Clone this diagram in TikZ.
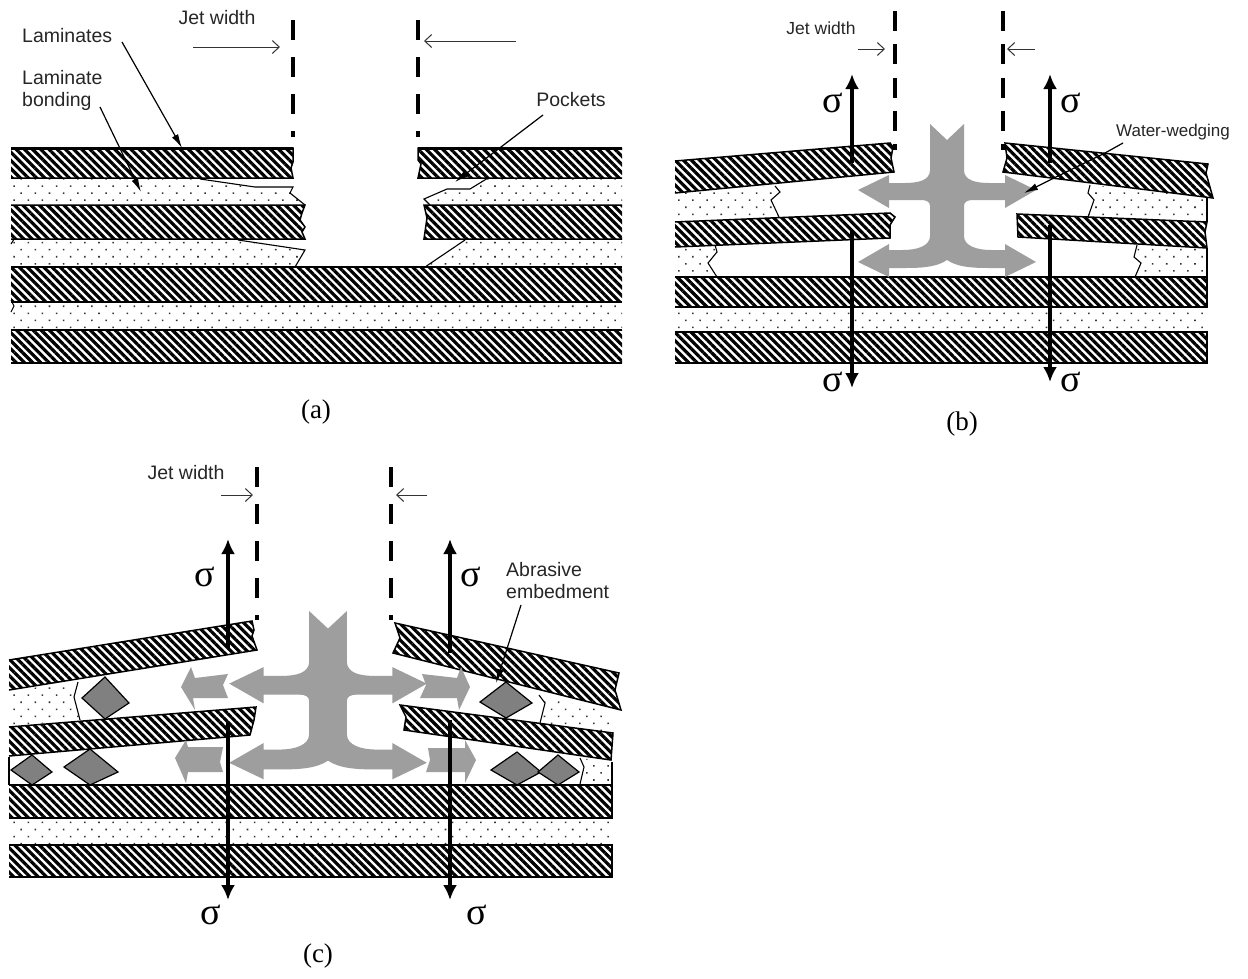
\documentclass[tikz,border=0pt]{standalone}
\usepackage{fontspec}
\setmainfont{Liberation Serif}
\setsansfont{Liberation Sans}
\usetikzlibrary{arrows.meta,patterns.meta}
\tikzset{
  laminate/.style={draw=black,line width=1.5pt,preaction={fill=white},
    pattern={Lines[angle=-45,distance=5.8pt,line width=3.2pt]}},
  bonding/.style={preaction={fill=white},pattern color=black!80,
    pattern={Dots[angle=45,distance=10pt,radius=1.1pt]}},
  crack/.style={draw=black,line width=1.1pt},
  jetline/.style={line width=4pt,dash pattern=on 20pt off 17pt},
  jetarrow/.style={line width=1pt,black!80,-{Straight Barb[length=7pt,width=13pt]}},
  sigmaarrow/.style={line width=3.6pt,-{Latex[length=15pt,width=14pt]}},
  leader/.style={line width=1.2pt,-{Latex[length=14pt,width=7pt]}},
  flow/.style={fill=black!38},
  grain/.style={draw=black,line width=1.2pt,fill=black!50},
  tag/.style={font=\sffamily\fontsize{19.5}{22}\selectfont,inner sep=0pt,text=black!85,align=left},
  sigmatag/.style={font=\fontsize{38}{38}\selectfont,inner sep=0pt},
  sublabel/.style={font=\fontsize{27}{27}\selectfont,inner sep=0pt},
}
% grey jet: origin at the middle of the tail
\newcommand{\jetflow}{
  \fill[flow] (-17,0) -- (0,16) -- (17,0) -- (17,46)
    .. controls (17,56) and (28,59) .. (42,59) -- (58,59) -- (58,51) -- (89,66) -- (58,84) -- (58,76) -- (26,76)
    .. controls (20,76) and (17,78) .. (17,82) -- (17,112)
    .. controls (17,122) and (30,126) .. (44,126) -- (58,126) -- (58,120) -- (89,138) -- (58,153) -- (58,144) -- (42,144)
    .. controls (25,144) and (10,143) .. (0,136)
    .. controls (-10,143) and (-25,144) .. (-42,144) -- (-58,144) -- (-58,153) -- (-89,138) -- (-58,120) -- (-58,126) -- (-44,126)
    .. controls (-30,126) and (-17,122) .. (-17,112) -- (-17,82)
    .. controls (-17,78) and (-20,76) .. (-26,76) -- (-58,76) -- (-58,84) -- (-89,66) -- (-58,51) -- (-58,59) -- (-42,59)
    .. controls (-28,59) and (-17,56) .. (-17,46) -- cycle;
}
\begin{document}
\begin{tikzpicture}[x=1pt,y=-1pt]
  \fill[white] (0,0) rectangle (1248,978);
  \useasboundingbox (0,0) rectangle (1248,978);

  % (a) bonding
  \fill[bonding] (11,178) -- (200,179) -- (255,187) -- (293,187) -- (290,193) -- (305,205) -- (11,205) -- cycle;
  \fill[bonding] (11,240) -- (238,240) -- (305,250) -- (295,267) -- (11,267) -- cycle;
  \fill[bonding] (622,178) -- (488,178) -- (470,189) -- (447,189) -- (424,199) -- (430,205) -- (622,205) -- cycle;
  \fill[bonding] (622,240) -- (465,240) -- (425,267) -- (622,267) -- cycle;
  \fill[bonding] (11,302) rectangle (622,330);
  % (a) pocket edges
  \draw[crack] (200,179) -- (255,187) -- (293,187) -- (290,193) -- (305,205);
  \draw[crack] (238,240) -- (305,250) -- (295,267);
  \draw[crack] (488,178) -- (470,189) -- (447,189) -- (424,199) -- (430,205);
  \draw[crack] (465,240) -- (425,267);
  \draw[crack] (11,228) -- (18,233) -- (11,244);
  \draw[crack] (11,300) -- (14,306) -- (11,312);
  % (a) laminates
  \draw[laminate] (11,148) -- (293,148) -- (293,162) -- (291,168) -- (293,178) -- (11,178);
  \draw[laminate] (11,205) -- (305,205) -- (302,213) -- (300,220) -- (305,227) -- (302,232) -- (305,239) -- (11,239);
  \draw[laminate] (622,148) -- (418,148) -- (418,160) -- (421,164) -- (418,178) -- (622,178);
  \draw[laminate] (622,205) -- (424,205) -- (427,218) -- (424,239) -- (622,239);
  \path[laminate,draw=none] (11,267) rectangle (622,302);
  \path[laminate,draw=none] (11,330) rectangle (622,363);
  \draw[crack] (11,267) -- (622,267) (11,302) -- (622,302) (11,330) -- (622,330) (11,363) -- (622,363);
  \draw[line width=3pt] (11,148) -- (293,148) (418,148) -- (622,148);
  % (a) jet
  \draw[jetline] (293,20) -- (293,137);
  \draw[jetline] (418,20) -- (418,137);
  \draw[jetarrow] (193,47) -- (280,47);
  \draw[jetarrow] (516,41) -- (424,41);
  \node[tag] (jeta) at (217,18) {Jet width};
  % (a) labels
  \node[tag,anchor=west] (laminates) at (22,36) {Laminates};
  \node[tag,anchor=north west] (bondlabel) at (22,70) {Laminate\\bonding};
  \node[tag] (pockets) at (571,100) {Pockets};
  \coordinate (lamtip) at (182,148);
  \coordinate (bondtip) at (141,192);
  \coordinate (pockettip) at (455,182);
  \draw[leader] (122,42) -- (lamtip);
  \draw[leader] (100,107) -- (bondtip);
  \draw[leader] (543,115) -- (pockettip);
  \node[sublabel] (suba) at (316,412) {(a)};

  % (b) bonding
  \fill[bonding] (675,193) -- (775,186) -- (780,192) -- (771,200) -- (779,217) -- (675,222) -- cycle;
  \fill[bonding] (675,248) -- (715,245) -- (717,252) -- (708,263) -- (717,277) -- (675,277) -- cycle;
  \fill[bonding] (1090,185) -- (1088,193) -- (1094,200) -- (1088,217) -- (1207,222) -- (1207,197) -- cycle;
  \fill[bonding] (1137,245) -- (1134,257) -- (1141,263) -- (1135,277) -- (1207,277) -- (1207,248) -- cycle;
  \fill[bonding] (675,307) rectangle (1207,332);
  \draw[crack] (775,186) -- (780,192) -- (771,200) -- (779,217);
  \draw[crack] (715,245) -- (717,252) -- (708,263) -- (717,277);
  \draw[crack] (1090,185) -- (1088,193) -- (1094,200) -- (1088,217);
  \draw[crack] (1137,245) -- (1134,257) -- (1141,263) -- (1135,277);
  \draw[crack] (1207,197) -- (1207,222) (1207,248) -- (1207,277);
  % (b) laminates
  \draw[laminate] (675,161) -- (890,143) -- (893,147) -- (891,158) -- (894,172) -- (675,193);
  \draw[laminate] (675,222) -- (890,213) -- (895,217) -- (890,225) -- (890,238) -- (675,247);
  \draw[laminate] (1005,143) -- (1208,164) -- (1206,173) -- (1213,198) -- (1003,172) -- (1007,158) -- cycle;
  \draw[laminate] (1017,214) -- (1207,222) -- (1205,232) -- (1207,248) -- (1018,237) -- cycle;
  \draw[laminate] (675,277) -- (1207,277) -- (1207,307) -- (675,307);
  \draw[laminate] (675,332) -- (1207,332) -- (1207,363) -- (675,363);
  % (b) jet
  \draw[jetline,dash pattern=on 20pt off 13.3pt] (895,11) -- (895,150);
  \draw[jetline,dash pattern=on 20pt off 13.3pt] (1003,11) -- (1003,150);
  \draw[jetarrow] (858,49) -- (885,49);
  \draw[jetarrow] (1035,49) -- (1007,49);
  \node[tag,font=\sffamily\fontsize{17.5}{20}\selectfont] (jetb) at (821,28) {Jet width};
  \begin{scope}[shift={(947,124)}]
    \jetflow
  \end{scope}
  % (b) stress
  \draw[sigmaarrow] (852,163) -- (852,74);
  \draw[sigmaarrow] (852,230) -- (852,388);
  \draw[sigmaarrow] (1050,163) -- (1050,74);
  \draw[sigmaarrow] (1050,225) -- (1050,382);
  \node[sigmatag] (sba) at (833,103) {σ};
  \node[sigmatag] (sbb) at (1071,103) {σ};
  \node[sigmatag] (sbc) at (833,382) {σ};
  \node[sigmatag] (sbd) at (1071,382) {σ};
  % (b) labels
  \node[tag,font=\sffamily\fontsize{17}{20}\selectfont] (wedging) at (1173,132) {Water-wedging};
  \coordinate (wedgetip) at (1024,193);
  \draw[leader] (1123,143) -- (1105,153) -- (1054,178) -- (wedgetip);
  \node[sublabel] (subb) at (962,424) {(b)};

  % (c) bonding
  \fill[bonding] (9,691) -- (78,682) -- (74,697) -- (80,720) -- (9,727) -- cycle;
  \fill[bonding] (539,695) -- (545,703) -- (540,723) -- (613,733) -- (613,713) -- cycle;
  \fill[bonding] (580,758) -- (584,767) -- (580,784) -- (613,784) -- (611,762) -- cycle;
  \fill[bonding] (9,818) rectangle (612,845);
  \draw[crack] (78,682) -- (74,697) -- (80,720);
  \draw[crack] (539,695) -- (545,703) -- (540,723);
  \draw[crack] (580,758) -- (584,767) -- (580,784);
  \draw[crack] (9,757) -- (9,785);
  \draw[crack] (612,762) -- (612,785);
  % (c) laminates
  \draw[laminate] (9,660) -- (252,621) -- (254,630) -- (252,636) -- (257,650) -- (9,690);
  \draw[laminate] (9,727) -- (256,707) -- (254,720) -- (250,735) -- (9,756);
  \draw[laminate] (395,623) -- (619,673) -- (615,690) -- (621,710) -- (393,653) -- (400,638) -- cycle;
  \draw[laminate] (400,705) -- (613,733) -- (611,760) -- (404,730) -- (406,717) -- cycle;
  \draw[laminate] (9,785) -- (612,785) -- (612,818) -- (9,818);
  \draw[laminate] (9,845) -- (612,845) -- (612,877) -- (9,877);
  % (c) abrasive grains
  \filldraw[grain] (105,677) -- (129,703) -- (105,719) -- (82,698) -- cycle;
  \filldraw[grain] (32,755) -- (52,772) -- (32,785) -- (11,770) -- cycle;
  \filldraw[grain] (90,749) -- (118,772) -- (90,785) -- (64,767) -- cycle;
  \filldraw[grain] (506,682) -- (532,703) -- (506,718) -- (480,702) -- cycle;
  \filldraw[grain] (517,752) -- (541,772) -- (517,785) -- (491,770) -- cycle;
  \filldraw[grain] (558,755) -- (579,772) -- (558,785) -- (538,772) -- cycle;
  % (c) jet
  \draw[jetline] (257,467) -- (257,620);
  \draw[jetline] (391,467) -- (391,620);
  \draw[jetarrow] (221,495) -- (253,495);
  \draw[jetarrow] (427,495) -- (396,495);
  \node[tag] (jetc) at (186,473) {Jet width};
  \begin{scope}[shift={(328,611)},xscale=1.11,yscale=1.1]
    \jetflow
  \end{scope}
  \fill[flow] (228,674) -- (195,678) -- (191,667) -- (181,687) -- (195,710) -- (193,698) -- (228,698) -- (223,685) -- cycle;
  \fill[flow] (223,747) -- (188,747) -- (186,740) -- (175,758) -- (186,783) -- (188,772) -- (223,772) -- (220,762) -- cycle;
  \fill[flow] (422,674) -- (457,678) -- (461,667) -- (470,687) -- (459,710) -- (457,698) -- (420,698) -- (426,685) -- cycle;
  \fill[flow] (428,748) -- (465,748) -- (465,740) -- (476,760) -- (465,783) -- (465,772) -- (426,772) -- (430,760) -- cycle;
  % (c) stress
  \draw[sigmaarrow] (228,648) -- (228,539);
  \draw[sigmaarrow] (228,722) -- (228,900);
  \draw[sigmaarrow] (450,653) -- (450,539);
  \draw[sigmaarrow] (450,720) -- (450,900);
  \node[sigmatag] (sca) at (205,577) {σ};
  \node[sigmatag] (scb) at (471,577) {σ};
  \node[sigmatag] (scc) at (211,915) {σ};
  \node[sigmatag] (scd) at (477,915) {σ};
  % (c) labels
  \node[tag,anchor=north west] (abrasive) at (506,562) {Abrasive\\embedment};
  \coordinate (grainfrom) at (521,605);
  \coordinate (graintip) at (496,683);
  \draw[leader] (grainfrom) -- (graintip);
  \node[sublabel] (subc) at (318,956) {(c)};
\end{tikzpicture}
\end{document}
